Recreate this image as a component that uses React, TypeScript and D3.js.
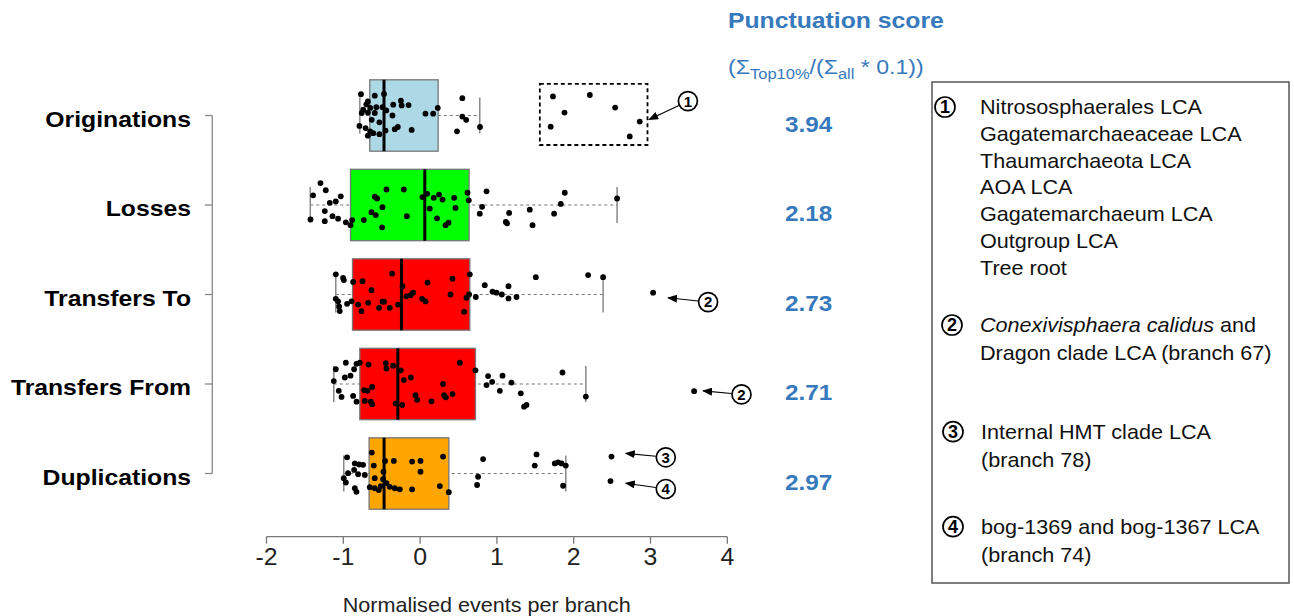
import React from 'react';
import * as d3 from 'd3';

const categories = ['Originations', 'Losses', 'Transfers To', 'Transfers From', 'Duplications'];
const boxColors = ['#add8e6', '#00ff00', '#ff0000', '#ff0000', '#ffa500'];
const q1 = [-0.655, -0.906, -0.88, -0.785, -0.664];
const medians = [-0.47, 0.061, -0.243, -0.29, -0.469];
const q3 = [0.235, 0.638, 0.647, 0.721, 0.374];
const whiskerLow = [-0.785, -1.43, -1.098, -1.124, -0.994];
const whiskerHigh = [0.777, 2.565, 2.383, 2.158, 1.897];
const scores = ['3.94', '2.18', '2.73', '2.71', '2.97'];
const xTicks = [-2, -1, 0, 1, 2, 3, 4];

// [value, vertical jitter as a fraction of the half box height]
const originations = [
  [-0.77, -0.59], [-0.59, -0.55], [-0.47, -0.6], [-0.68, -0.39], [-0.7, -0.31], [-0.35, -0.3],
  [-0.25, -0.41], [-0.24, -0.28], [-0.15, -0.29], [-0.49, -0.23], [-0.65, -0.21], [-0.57, -0.23],
  [-0.44, -0.14], [-0.76, -0.07], [-0.68, -0.08], [-0.59, -0.07], [-0.36, 0], [0.07, -0.05],
  [0.17, -0.05], [0.23, -0.21], [0.55, -0.48], [0.55, 0.03], [0.6, 0.12], [0.78, 0.32],
  [0.48, 0.44], [-0.79, 0.29], [-0.71, 0.35], [-0.65, 0.44], [-0.68, 0.56], [-0.53, 0.19],
  [-0.45, 0.42], [-0.33, 0.38], [-0.29, 0.32], [-0.11, 0.4], [-0.53, 0.52], [-0.61, 0.49],
  [-0.74, -0.16], [-0.63, 0.12],
  [1.73, -0.53], [2.21, -0.57], [1.88, -0.08], [2.54, -0.22], [2.86, 0.17], [1.7, 0.31], [2.73, 0.58],
];
const losses = [
  [-1.427, 0.4], [-1.393, -0.27], [-1.297, -0.61], [-1.228, -0.41], [-1.176, -0.06], [-1.098, -0.1],
  [-1.033, -0.24], [-1.241, 0.17], [-1.141, 0.31], [-1.241, 0.45], [-1.068, 0.38], [-0.967, 0.48],
  [-0.906, 0.56], [-0.885, 0.42], [-0.733, 0.42], [-0.633, 0.2], [-0.577, 0.28], [-0.495, 0.62],
  [-0.49, 0.06], [-0.59, -0.23], [-0.56, -0.18], [-0.438, -0.43], [-0.212, -0.43], [-0.173, 0.31],
  [0.031, -0.22], [0.091, -0.31], [0.126, 0.1], [0.178, -0.2], [0.247, -0.29], [0.292, -0.15],
  [0.221, 0.37], [0.331, 0.56], [0.37, 0.49], [0.443, -0.2], [0.461, 0.08], [0.617, -0.34],
  [0.634, -0.13], [0.777, 0.24], [0.807, 0.05], [0.865, -0.38], [1.116, 0.47], [1.133, 0.51],
  [1.159, 0.22], [1.428, 0.13], [1.464, 0.56], [1.745, 0.24], [1.832, -0.03], [1.884, -0.34],
  [2.565, -0.18],
];
const transfersTo = [
  [-1.098, -0.56], [-1.003, -0.46], [-0.993, -0.4], [-0.872, -0.35], [-0.75, -0.37], [-0.365, -0.58],
  [0.647, -0.56], [0.422, -0.44], [0.096, -0.33], [-0.633, -0.12], [-0.229, -0.23], [0.396, 0],
  [-0.091, -0.05], [-0.177, 0.05], [-0.125, 0.02], [0.026, 0.12], [0.07, 0.19], [-1.098, 0.12],
  [-1.068, 0.19], [-1.046, 0.46], [-1.055, 0.33], [-0.951, 0.26], [-0.893, 0.19], [-0.807, 0.28],
  [-0.763, 0.46], [-0.677, 0.23], [-0.534, 0.37], [-0.49, 0.2], [-0.469, 0.2], [-0.395, 0.37],
  [-0.286, 0.28], [0.573, 0.48], [0.604, 0.09], [0.638, 0], [0.725, 0.07], [0.842, -0.26],
  [0.943, -0.08], [0.995, -0.05], [1.064, 0], [1.151, -0.23], [1.151, 0.11], [1.255, 0.07],
  [1.507, -0.48], [2.188, -0.54], [2.383, -0.48],
  [3.034, -0.05],
];
const transfersFrom = [
  [-1.098, -0.41], [-0.967, -0.59], [-1.124, -0.08], [-1.059, 0.19], [-1.023, 0.36], [-0.98, -0.18],
  [-0.906, -0.23], [-0.859, -0.41], [-0.828, -0.56], [-0.785, -0.59], [-0.872, 0.33], [-0.828, 0.49],
  [-0.729, 0.17], [-0.685, 0.19], [-0.625, 0.08], [-0.72, 0.47], [-0.642, 0.49], [-0.625, 0.56],
  [-0.672, -0.54], [-0.447, -0.58], [-0.438, -0.43], [-0.352, -0.51], [-0.251, -0.38], [-0.316, 0.54],
  [-0.234, 0.58], [-0.212, -0.11], [-0.121, -0.18], [-0.06, 0.31], [-0.039, 0.44], [0.148, 0.48],
  [0.299, 0], [0.313, 0.31], [0.335, 0.37], [0.422, 0.28], [0.517, -0.59], [0.721, -0.38],
  [0.865, 0.03], [0.885, -0.22], [0.938, -0.06], [1.038, 0.19], [1.073, -0.23], [1.19, -0.04],
  [1.311, 0.26], [1.354, 0.63], [1.385, 0.58], [1.854, -0.32], [2.158, 0.35],
  [3.568, 0.2],
];
const duplications = [
  [-0.951, -0.45], [-0.85, -0.28], [-0.794, -0.25], [-0.742, -0.24], [-0.859, -0.1], [-0.807, 0.02],
  [-0.72, 0.04], [-0.938, -0.01], [-0.994, 0.13], [-0.967, 0.25], [-0.85, 0.41], [-0.828, 0.51],
  [-0.629, -0.58], [-0.603, -0.22], [-0.456, -0.35], [-0.342, -0.35], [-0.477, -0.05], [-0.59, 0.13],
  [-0.482, 0.16], [-0.655, 0.38], [-0.59, 0.41], [-0.538, 0.46], [-0.512, 0.35], [-0.438, 0.27],
  [-0.395, 0.37], [-0.329, 0.41], [-0.264, 0.44], [-0.104, -0.33], [0.005, -0.35], [0.005, -0.05],
  [-0.104, 0.44], [0.257, 0.35], [0.299, -0.47], [0.374, 0.52], [0.82, -0.4], [0.755, 0.09],
  [0.742, 0.32], [1.516, -0.53], [1.493, -0.22], [1.754, -0.28], [1.797, -0.31], [1.842, -0.28],
  [1.897, -0.22], [1.862, 0.34],
  [2.492, -0.47], [2.479, 0.21],
];
const points = [originations, losses, transfersTo, transfersFrom, duplications];

// outlier highlight box for originations: [v0, v1, j0, j1]
const highlightBox = [1.559, 2.961, -0.88, 0.82];

// annotations: category index, circle [v, j], arrow tip [v, j]
const annotations = [
  { cat: 0, label: '1', circle: [3.487, -0.4], tip: [2.982, 0.11] },
  { cat: 2, label: '2', circle: [3.75, 0.21], tip: [3.229, 0.09] },
  { cat: 3, label: '2', circle: [4.185, 0.29], tip: [3.685, 0.19] },
  { cat: 4, label: '3', circle: [3.199, -0.45], tip: [2.678, -0.56] },
  { cat: 4, label: '4', circle: [3.199, 0.43], tip: [2.678, 0.27] },
];

const legend1 = ['Nitrososphaerales LCA', 'Gagatemarchaeaceae LCA', 'Thaumarchaeota LCA', 'AOA LCA',
  'Gagatemarchaeum LCA', 'Outgroup LCA', 'Tree root'];

const BLUE = '#3679bd';
const FONT = '"Liberation Sans", Arial, sans-serif';

const T = ({ x, y, sx = 1.08, children, ...rest }: any) => (
  <text transform={`translate(${x},${y}) scale(${sx},1)`} fontFamily={FONT} {...rest}>{children}</text>
);

const Num = ({ cx, cy, label, r = 9.5, size = 15 }: any) => (
  <g>
    <circle cx={cx} cy={cy} r={r} fill="#fff" stroke="#000" strokeWidth={1.7} />
    <text x={cx} y={cy + size * 0.36} textAnchor="middle" fontFamily={FONT} fontWeight="bold"
      fontSize={size}>{label}</text>
  </g>
);

export default function App() {
  const W = 1294, H = 616;
  const x = d3.scaleLinear().domain([-2, 4]).range([266.5, 727.3]);
  const y = d3.scalePoint<string>().domain(categories).range([115.5, 473.5]);
  const half = 35.7, cap = 18, jit = 36;
  const axisY = 536.7;
  const yAt = (i: number, j: number) => (y(categories[i]) as number) + j * jit;

  return (
    <svg width={W} height={H} style={{ position: 'absolute', left: 0, top: 0, background: '#fff' }}>
      <defs>
        <marker id="arr" markerUnits="userSpaceOnUse" markerWidth="10" markerHeight="8" refX="9" refY="4" orient="auto">
          <path d="M0,0 L10,4 L0,8 z" fill="#000" />
        </marker>
      </defs>

      {/* header */}
      <T x={728} y={28} sx={1.1} fontSize={22.5} fontWeight="bold" fill={BLUE}>Punctuation score</T>
      <T x={728} y={74} sx={1.1} fontSize={21} fill={BLUE}>
        (Σ<tspan fontSize={15} dy={5}>Top10%</tspan><tspan dy={-5}>/(Σ</tspan>
        <tspan fontSize={15} dy={5}>all</tspan><tspan dy={-5}> * 0.1))</tspan>
      </T>

      {/* category axis */}
      <line x1={212.3} x2={212.3} y1={y(categories[0])} y2={y(categories[4])} stroke="#888" strokeWidth={1.3} />
      {categories.map((c, i) => (
        <g key={c}>
          <line x1={205} x2={212.3} y1={y(c)} y2={y(c)} stroke="#888" strokeWidth={1.3} />
          <T x={191} y={(y(c) as number) + 11} sx={1.1} fontSize={22.5} fontWeight="bold" textAnchor="end" fill="#000">{c}</T>
          <T x={785} y={(y(c) as number) + 16} fontSize={22.5} fontWeight="bold" fill={BLUE}>{scores[i]}</T>
        </g>
      ))}

      {/* boxes */}
      {categories.map((c, i) => {
        const cy = y(c) as number;
        return (
          <g key={c}>
            <line x1={x(whiskerLow[i])} x2={x(whiskerHigh[i])} y1={cy} y2={cy} stroke="#777" strokeWidth={1.2} strokeDasharray="3,3" />
            <line x1={x(whiskerLow[i])} x2={x(whiskerLow[i])} y1={cy - cap} y2={cy + cap} stroke="#888" strokeWidth={1.5} />
            <line x1={x(whiskerHigh[i])} x2={x(whiskerHigh[i])} y1={cy - cap} y2={cy + cap} stroke="#888" strokeWidth={1.5} />
            <rect x={x(q1[i])} y={cy - half} width={x(q3[i]) - x(q1[i])} height={half * 2}
              fill={boxColors[i]} stroke="#777" strokeWidth={1.3} />
            <line x1={x(medians[i])} x2={x(medians[i])} y1={cy - half} y2={cy + half} stroke="#000" strokeWidth={3} />
          </g>
        );
      })}

      {/* highlight box */}
      <rect x={x(highlightBox[0])} y={yAt(0, highlightBox[2])} width={x(highlightBox[1]) - x(highlightBox[0])}
        height={(highlightBox[3] - highlightBox[2]) * jit} fill="none" stroke="#000" strokeWidth={1.8} strokeDasharray="4,3" />

      {/* points */}
      {points.map((pts, i) => pts.map(([v, j], k) => (
        <circle key={`${i}-${k}`} cx={x(v)} cy={yAt(i, j)} r={2.9} fill="#000" />
      )))}

      {/* annotations */}
      {annotations.map((a, k) => {
        const cx = x(a.circle[0]), cy = yAt(a.cat, a.circle[1]);
        const tx = x(a.tip[0]), ty = yAt(a.cat, a.tip[1]);
        const d = Math.hypot(tx - cx, ty - cy);
        const sx = cx + (tx - cx) / d * 10, sy = cy + (ty - cy) / d * 10;
        return (
          <g key={k}>
            <line x1={sx} y1={sy} x2={tx} y2={ty} stroke="#000" strokeWidth={1.1} markerEnd="url(#arr)" />
            <Num cx={cx} cy={cy} label={a.label} r={9.5} size={15} />
          </g>
        );
      })}

      {/* x axis */}
      <line x1={x(-2)} x2={x(4)} y1={axisY} y2={axisY} stroke="#777" strokeWidth={1.3} />
      {xTicks.map(t => (
        <g key={t}>
          <line x1={x(t)} x2={x(t)} y1={axisY} y2={axisY + 7} stroke="#777" strokeWidth={1.3} />
          <T x={x(t)} y={axisY + 28} fontSize={23} textAnchor="middle" fill="#222">{t}</T>
        </g>
      ))}
      <T x={486.7} y={612} fontSize={20} textAnchor="middle" fill="#222">Normalised events per branch</T>

      {/* legend */}
      <rect x={932} y={82} width={357} height={501} fill="#fff" stroke="#555" strokeWidth={1.5} />
      <Num cx={945} cy={107} label="1" r={10} size={18} />
      {legend1.map((s, i) => (
        <T key={s} x={980} y={114 + i * 26.8} fontSize={20} fill="#111">{s}</T>
      ))}
      <Num cx={952} cy={325} label="2" r={10} size={18} />
      <T x={980} y={332} fontSize={20} fill="#111">
        <tspan fontStyle="italic">Conexivisphaera calidus</tspan> and
      </T>
      <T x={980} y={360} fontSize={20} fill="#111">Dragon clade LCA (branch 67)</T>
      <Num cx={953} cy={431.7} label="3" r={10} size={18} />
      <T x={981} y={439} fontSize={20} fill="#111">Internal HMT clade LCA</T>
      <T x={981} y={467} fontSize={20} fill="#111">(branch 78)</T>
      <Num cx={953} cy={526.7} label="4" r={10} size={18} />
      <T x={981} y={534} fontSize={20} fill="#111">bog-1369 and bog-1367 LCA</T>
      <T x={981} y={562} fontSize={20} fill="#111">(branch 74)</T>
    </svg>
  );
}
